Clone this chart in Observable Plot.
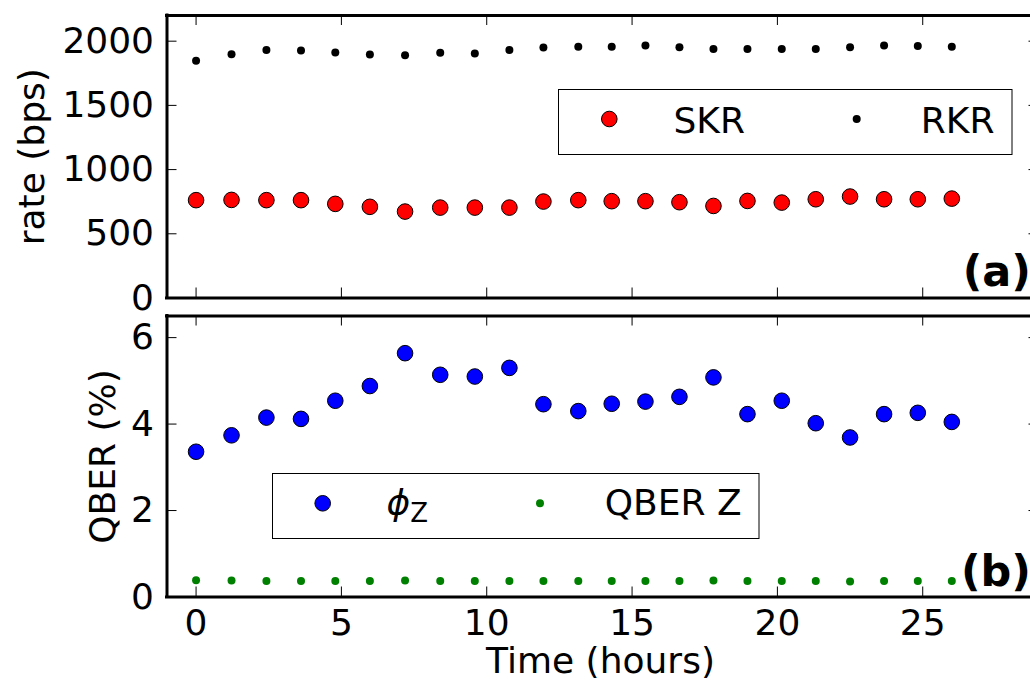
<!DOCTYPE html>
<html>
<head>
<meta charset="utf-8">
<script src="https://cdn.jsdelivr.net/npm/d3@7"></script>
<script src="https://cdn.jsdelivr.net/npm/@observablehq/plot@0.6"></script>
<style>
  html, body { margin: 0; padding: 0; background: white; overflow: hidden; }
  #chart svg { display: block; }
</style>
</head>
<body>
<div id="chart"></div>
<script>
// ---- data ----
const time = [0, 1.22, 2.42, 3.61, 4.79, 5.98, 7.19, 8.40, 9.59, 10.78, 11.95, 13.15, 14.30, 15.46, 16.63, 17.80, 18.97, 20.15, 21.32, 22.50, 23.67, 24.83, 26.0];
const skr = [762, 764, 762, 762, 733, 710, 673, 704, 704, 704, 751, 762, 754, 754, 746, 717, 756, 743, 769, 790, 769, 769, 774];
const rkr = [1847, 1899, 1932, 1928, 1912, 1896, 1891, 1909, 1904, 1932, 1951, 1956, 1956, 1966, 1953, 1940, 1940, 1940, 1940, 1953, 1966, 1963, 1956];
const phiZ = [3.36, 3.74, 4.15, 4.12, 4.54, 4.88, 5.64, 5.14, 5.10, 5.30, 4.46, 4.30, 4.47, 4.52, 4.63, 5.08, 4.23, 4.54, 4.02, 3.69, 4.23, 4.26, 4.05];
const qberZ = [0.39, 0.38, 0.37, 0.37, 0.37, 0.37, 0.38, 0.37, 0.37, 0.37, 0.37, 0.37, 0.37, 0.37, 0.37, 0.38, 0.37, 0.37, 0.37, 0.36, 0.37, 0.37, 0.37];
const xTicks = [0, 5, 10, 15, 20, 25];
const rateTicks = [0, 500, 1000, 1500, 2000];
const qberTicks = [0, 2, 4, 6];
const xDomain = [-1, 29];
const rateDomain = [0, 2200];
const qberDomain = [0, 6.5];

const rows = time.map((t, i) => ({t, skr: skr[i], rkr: rkr[i], phi: phiZ[i], qz: qberZ[i]}));

const FONT = "DejaVu Sans, sans-serif";
const W = 1030, ML = 166.5;
const xRange = [166.5, 1038.5];
const frameW = W - ML;
const fmt = d => String(d);

function spines(yDom) {
  return [
    Plot.ruleX([xDomain[0], xDomain[1]], {stroke: "black", strokeWidth: 3, strokeLinecap: "square"}),
    Plot.ruleY([yDom[0], yDom[1]], {stroke: "black", strokeWidth: 3, strokeLinecap: "square"})
  ];
}
function ticks(yTicks, frameH) {
  return [
    Plot.tickX(xTicks, {x: d => d, insetBottom: frameH - 10, stroke: "black", strokeWidth: 1}),
    Plot.tickX(xTicks, {x: d => d, insetTop: frameH - 10, stroke: "black", strokeWidth: 1}),
    Plot.tickY(yTicks, {y: d => d, insetRight: frameW - 10, stroke: "black", strokeWidth: 1}),
    Plot.tickY(yTicks, {y: d => d, insetLeft: (xRange[1] - 10) - ML, stroke: "black", strokeWidth: 1})
  ];
}

// ---- panel (a) ----
const hA = 300, mtA = 15, mbA = 2.5, frameHA = hA - mtA - mbA;
const plotA = Plot.plot({
  width: W, height: hA,
  marginLeft: ML, marginRight: 0, marginTop: mtA, marginBottom: mbA,
  x: {domain: xDomain, range: xRange, axis: null},
  y: {domain: rateDomain},
  style: {fontFamily: FONT, fontSize: "36px", background: "white", overflow: "visible", maxWidth: "none"},
  marks: [
    Plot.axisY(rateTicks, {tickSize: 0, tickPadding: 13, fontSize: 36, label: null, tickFormat: fmt}),
    ...ticks(rateTicks, frameHA),
    ...spines(rateDomain),
    Plot.dot(rows, {x: "t", y: "skr", r: 7.8, fill: "#ff0000", stroke: "black", strokeWidth: 1}),
    Plot.dot(rows, {x: "t", y: "rkr", r: 4, fill: "black"}),
    Plot.text(["rate (bps)"], {text: d => d, frameAnchor: "left", textAnchor: "middle", rotate: -90, dx: -134.5, fontSize: 36, lineAnchor: "middle", fill: "black"}),
    Plot.text(["(a)"], {text: d => d, frameAnchor: "bottom-right", textAnchor: "end", lineAnchor: "bottom", dx: 0.5, dy: -12, fontSize: 43, fontWeight: "bold", fill: "black"})
  ]
});

// ---- panel (b) ----
const hB = 391, mtB = 15.5, mbB = 94.5, frameHB = hB - mtB - mbB;
const plotB = Plot.plot({
  width: W, height: hB,
  marginLeft: ML, marginRight: 0, marginTop: mtB, marginBottom: mbB,
  x: {domain: xDomain, range: xRange},
  y: {domain: qberDomain},
  style: {fontFamily: FONT, fontSize: "36px", background: "white", overflow: "visible", maxWidth: "none"},
  marks: [
    Plot.axisY(qberTicks, {tickSize: 0, tickPadding: 13, fontSize: 36, label: null, tickFormat: fmt}),
    Plot.axisX(xTicks, {tickSize: 0, tickPadding: 12.7, fontSize: 36, label: null, tickFormat: fmt}),
    ...ticks(qberTicks, frameHB),
    ...spines(qberDomain),
    Plot.dot(rows, {x: "t", y: "phi", r: 7.8, fill: "#0000ff", stroke: "black", strokeWidth: 1}),
    Plot.dot(rows, {x: "t", y: "qz", r: 4, fill: "#008000"}),
    Plot.text(["QBER (%)"], {text: d => d, frameAnchor: "left", textAnchor: "middle", rotate: -90, dx: -64, fontSize: 36, lineAnchor: "middle", fill: "black"}),
    Plot.text(["Time (hours)"], {text: d => d, frameAnchor: "bottom", textAnchor: "middle", dx: 1.75, dy: 64, fontSize: 36, lineAnchor: "middle", fill: "black"}),
    Plot.text(["(b)"], {text: d => d, frameAnchor: "bottom-right", textAnchor: "end", lineAnchor: "bottom", dx: 0.5, dy: -11.5, fontSize: 43, fontWeight: "bold", fill: "black"})
  ]
});

// ---- legends ----
function legend(svg, box, items) {
  const g = d3.select(svg).append("g")
    .attr("font-family", FONT).attr("font-size", 36).attr("text-anchor", "start");
  g.append("rect").attr("x", box.x).attr("y", box.y).attr("width", box.w).attr("height", box.h)
    .attr("fill", "white").attr("stroke", "black").attr("stroke-width", 1);
  items.forEach(it => {
    g.append("circle").attr("cx", it.mx).attr("cy", it.my).attr("r", it.r)
      .attr("fill", it.fill).attr("stroke", it.stroke || "none").attr("stroke-width", 1);
    const t = g.append("text").attr("x", it.tx).attr("y", it.ty).attr("fill", "black").attr("text-anchor", "start");
    if (it.sub) {
      t.append("tspan").attr("font-style", "italic").text(it.label);
      t.append("tspan").attr("font-size", 26).attr("dy", 6.7).text(it.sub);
    } else {
      t.text(it.label);
    }
  });
}
legend(plotA, {x: 558.5, y: 89.5, w: 453.5, h: 65}, [
  {mx: 609.3, my: 119, r: 7.8, fill: "#ff0000", stroke: "black", tx: 673.5, ty: 133.3, label: "SKR"},
  {mx: 856.7, my: 119, r: 4, fill: "black", tx: 920.8, ty: 133.3, label: "RKR"}
]);
legend(plotB, {x: 272.5, y: 173.5, w: 486.5, h: 65}, [
  {mx: 322.7, my: 203.3, r: 7.8, fill: "#0000ff", stroke: "black", tx: 386.5, ty: 215, label: "\u03D5", sub: "Z"},
  {mx: 540, my: 203.3, r: 4, fill: "#008000", tx: 604.7, ty: 215, label: "QBER Z"}
]);

const chart = document.getElementById("chart");
chart.appendChild(plotA);
chart.appendChild(plotB);
</script>
</body>
</html>
